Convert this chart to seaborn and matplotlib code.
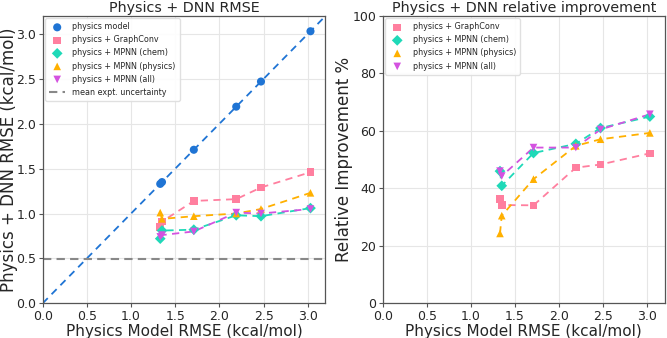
import numpy as np
import pandas as pd
import matplotlib
matplotlib.use("Agg")
import matplotlib.pyplot as plt
import seaborn as sns

# ---- data ----
physics_rmse = [1.33, 1.35, 1.71, 2.19, 2.47, 3.03]
graphconv_rmse = [0.85, 0.91, 1.14, 1.16, 1.29, 1.46]
mpnn_chem_rmse = [0.72, 0.81, 0.82, 0.98, 0.97, 1.06]
mpnn_phys_rmse = [1.01, 0.94, 0.97, 1.00, 1.05, 1.23]
mpnn_all_rmse = [0.74, 0.76, 0.80, 1.01, 1.00, 1.05]
expt_uncertainty = 0.49

graphconv_impr = [36.2, 34.2, 34.1, 47.2, 48.3, 52.2]
mpnn_chem_impr = [46.0, 40.9, 52.3, 55.5, 61.0, 65.0]
mpnn_phys_impr = [24.3, 30.5, 43.2, 54.8, 57.1, 59.3]
mpnn_all_impr = [46.0, 44.3, 54.2, 54.2, 60.5, 65.8]

labels = ["physics + GraphConv", "physics + MPNN (chem)",
          "physics + MPNN (physics)", "physics + MPNN (all)"]
colors = ["#ff7f9f", "#1fd9b8", "#ffb000", "#d452e0"]
markers = ["s", "D", "^", "v"]
phys_color = "#1f74d4"

sns.set_style("whitegrid")
plt.rcParams['font.family'] = ['DejaVu Sans']
plt.rcParams['axes.edgecolor'] = '#555555'
plt.rcParams['grid.color'] = '#e6e6e6'

fig = plt.figure(figsize=(6.67, 3.38), dpi=100)
ax1 = fig.add_axes([0.064, 0.1027, 0.424, 0.85])
ax2 = fig.add_axes([0.5738, 0.1027, 0.423, 0.85])

for ax in (ax1, ax2):
    ax.tick_params(axis='both', which='both', length=3, width=0.8,
                   color='#555555', labelsize=9, pad=1.5, bottom=True, left=True)
    for s in ax.spines.values():
        s.set_linewidth(0.9)

leg_kw = dict(loc="upper left", fontsize=5.8, frameon=True, framealpha=0.9,
              borderpad=0.5, labelspacing=0.5, handletextpad=0.9,
              edgecolor="#dddddd", fancybox=True, borderaxespad=0.3)
ms = 30

# ---- left panel ----
ax1.axline((0, 0), slope=1, color=phys_color, ls=(0, (4, 3)), lw=1.3, zorder=2)
sns.scatterplot(x=physics_rmse, y=physics_rmse, ax=ax1, color=phys_color,
                marker="o", s=ms + 4, edgecolor="none", label="physics model", zorder=4)
rmse_series = [graphconv_rmse, mpnn_chem_rmse, mpnn_phys_rmse, mpnn_all_rmse]
for ys, lab, c, m in zip(rmse_series, labels, colors, markers):
    sns.lineplot(x=physics_rmse, y=ys, ax=ax1, color=c, ls=(0, (4, 3)), lw=1.3,
                 legend=False, sort=False, estimator=None, zorder=3)
    sns.scatterplot(x=physics_rmse, y=ys, ax=ax1, color=c, marker=m, s=ms,
                    edgecolor="none", label=lab, zorder=4)
ax1.axhline(expt_uncertainty, color="#888888", ls=(0, (4, 2.5)), lw=1.5,
            label="mean expt. uncertainty", zorder=2)
ax1.set_xlim(0, 3.2)
ax1.set_ylim(0, 3.2)
ax1.set_xticks(np.arange(0, 3.01, 0.5))
ax1.set_yticks(np.arange(0, 3.01, 0.5))
ax1.set_title("Physics + DNN RMSE", fontsize=10.3, pad=3)
ax1.set_xlabel("Physics Model RMSE (kcal/mol)", fontsize=11, labelpad=1)
ax1.set_ylabel("Physics + DNN RMSE (kcal/mol)", fontsize=12)
ax1.yaxis.set_label_coords(-0.088, 0.5)
ax1.legend(**leg_kw)

# ---- right panel ----
impr_series = [graphconv_impr, mpnn_chem_impr, mpnn_phys_impr, mpnn_all_impr]
for ys, lab, c, m in zip(impr_series, labels, colors, markers):
    sns.lineplot(x=physics_rmse, y=ys, ax=ax2, color=c, ls=(0, (4, 3)), lw=1.3,
                 legend=False, sort=False, estimator=None, zorder=3)
    sns.scatterplot(x=physics_rmse, y=ys, ax=ax2, color=c, marker=m, s=ms,
                    edgecolor="none", label=lab, zorder=4)
ax2.set_xlim(0, 3.2)
ax2.set_ylim(0, 100)
ax2.set_xticks(np.arange(0, 3.01, 0.5))
ax2.set_yticks(np.arange(0, 101, 20))
ax2.set_title("Physics + DNN relative improvement", fontsize=10.3, pad=3)
ax2.set_xlabel("Physics Model RMSE (kcal/mol)", fontsize=11, labelpad=1)
ax2.set_ylabel("Relative Improvement %", fontsize=12)
ax2.yaxis.set_label_coords(-0.105, 0.5)
ax2.legend(**leg_kw)

fig.savefig("out.png", dpi=100)
